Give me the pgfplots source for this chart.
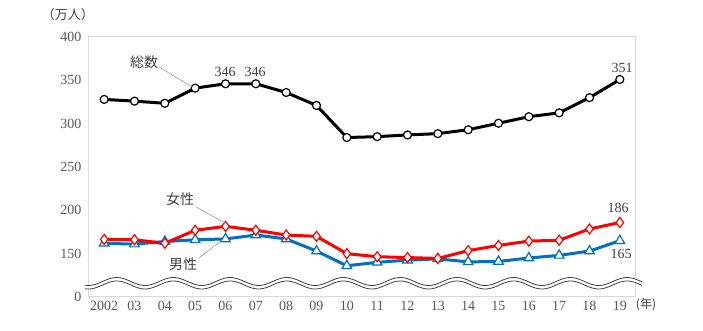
\documentclass[border=0pt]{standalone}
\usepackage{pgfplots}
\pgfplotsset{compat=1.18}
\usepackage{fontspec}
\setmainfont{Liberation Serif}
\newfontfamily\jp{Noto Sans CJK JP}
\definecolor{txt}{HTML}{595959}
\definecolor{myblue}{HTML}{0070C0}
\definecolor{myred}{HTML}{FF0000}
\definecolor{frame}{HTML}{D9D9D9}

\pgfplotstableread{
year total female male
2002 328 166.5 162
2003 326 166 161
2004 323.5 162 164
2005 341 177 166
2006 346 181.5 167
2007 346 177 171.5
2008 336 171.5 167
2009 321 170 153
2010 284 150 136
2011 285 146.5 140
2012 287 145.5 142.5
2013 288.5 144.5 144
2014 293 153.5 140.5
2015 300.5 159.5 141
2016 308 164.5 145
2017 312.5 165.5 148
2018 330 178.5 153
2019 351 186 165
}\datatable

\begin{document}
\begin{tikzpicture}[x=1pt,y=1pt]
\useasboundingbox (-89,-34) rectangle (614,297);
\begin{axis}[
  at={(0,0)}, anchor=south west,
  scale only axis, width=546pt, height=260pt,
  xmin=2001.5, xmax=2019.5, ymin=100, ymax=400,
  xtick={2002,...,2019},
  xticklabels={2002,03,04,05,06,07,08,09,10,11,12,13,14,15,16,17,18,19},
  ytick={100,150,200,250,300,350,400},
  yticklabels={0,150,200,250,300,350,400},
  tick style={draw=none},
  axis line style={draw=frame, line width=1pt},
  /pgf/number format/assume math mode=true,
  ticklabel style={font=\fontsize{14}{16}\selectfont, text=txt},
  yticklabel style={xshift=-4pt},
  xticklabel style={yshift=-1pt},
  clip=false,
]
\addplot[black, line width=3pt, mark=*, mark size=4pt,
  mark options={fill=white, draw=black, line width=1.2pt}]
  table[x=year, y=total] {\datatable};
\addplot[myblue, line width=3pt, mark=triangle*, mark size=5.5pt,
  mark options={fill=white, draw=myblue, line width=1.2pt}]
  table[x=year, y=male] {\datatable};
\addplot[myred, line width=3pt, mark=diamond*, mark size=5pt,
  mark options={fill=white, draw=myred, line width=1.2pt}]
  table[x=year, y=female] {\datatable};
\end{axis}
% axis break
\fill[white] plot[domain=-4:553, samples=240, smooth] (\x, {15.5+4*cos(6.349*(\x-27.7))})
  -- plot[domain=553:-4, samples=240, smooth] (\x, {12+4*cos(6.349*(\x-27.7))}) -- cycle;
\draw[black!75, line width=0.8pt] plot[domain=-4:553, samples=240, smooth] (\x, {15.5+4*cos(6.349*(\x-27.7))});
\draw[black!75, line width=0.8pt] plot[domain=-4:553, samples=240, smooth] (\x, {12+4*cos(6.349*(\x-27.7))});
% annotations
\begin{scope}[every node/.style={font=\fontsize{14}{16}\selectfont, text=black!75}]
\node[font=\jp\fontsize{14}{16}\selectfont, text=black!75] at (55,235) {総数};
\draw[black!45, line width=0.5pt] (70,230) -- (103,210);
\node at (136,225) {346};
\node at (166,225) {346};
\node at (533,229) {351};
\node[font=\jp\fontsize{14}{16}\selectfont, text=black!75] at (91,98) {女性};
\draw[black!45, line width=0.5pt] (107,90) -- (136,74);
\node[font=\jp\fontsize{14}{16}\selectfont, text=black!75] at (94,33) {男性};
\draw[black!45, line width=0.5pt] (110,39) -- (133,57);
\node at (529,89) {186};
\node at (532,43) {165};
\node[font=\jp\fontsize{13}{15}\selectfont, text=black!75] at (-21,282) {（万人）};
\node[font=\jp\fontsize{12}{14}\selectfont, text=black!75] at (557,-8) {(年)};
\end{scope}
\end{tikzpicture}
\end{document}
